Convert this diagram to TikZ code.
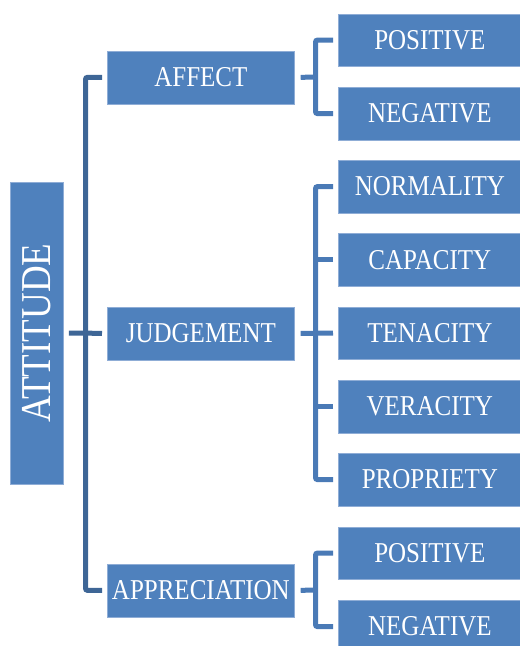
\documentclass[tikz,border=0pt]{standalone}
\usepackage{fontspec}
\setmainfont{Liberation Serif}
\definecolor{boxblue}{HTML}{4F81BD}
\definecolor{boxedge}{HTML}{8FADD6}
\definecolor{leftline}{HTML}{3E6696}
\definecolor{rightline}{HTML}{4A7AB6}
\newcommand{\tall}[1]{\scalebox{1}[1.15]{#1}}
\begin{document}
\begin{tikzpicture}[x=1pt,y=-1pt,
  box/.style={fill=boxblue, draw=boxedge, line width=0.7pt, text=white, inner sep=0pt,
    font=\fontsize{25}{25}\selectfont},
  midbox/.style={box, anchor=north west, minimum width=187pt, minimum height=53pt},
  leafbox/.style={box, anchor=north west, minimum width=183pt, minimum height=52.5pt},
  lline/.style={draw=leftline, line width=5pt, rounded corners=2pt},
  rline/.style={draw=rightline, line width=5pt, rounded corners=2pt}]
\useasboundingbox (0,0) rectangle (520,646);
\clip (0,0) rectangle (520,646);

% root
\node[box, minimum width=302pt, minimum height=53pt, rotate=90,
      font=\fontsize{37}{37}\selectfont] (att) at (37,333) {\tall{ATTITUDE}};

% middle level
\node[midbox] (affect) at (107,50.5) {\tall{AFFECT}};
\node[midbox] (judg) at (107,306.5) {\tall{JUDGEMENT}};
\node[midbox] (appr) at (107,563.5) {\tall{APPRECIATION}};

% leaves
\node[leafbox] (pos1) at (338,13.5) {\tall{POSITIVE}};
\node[leafbox] (neg1) at (338,87) {\tall{NEGATIVE}};
\node[leafbox] (norm) at (338,160) {\tall{NORMALITY}};
\node[leafbox] (cap) at (338,233.3) {\tall{CAPACITY}};
\node[leafbox] (ten) at (338,306.5) {\tall{TENACITY}};
\node[leafbox] (ver) at (338,380) {\tall{VERACITY}};
\node[leafbox] (prop) at (338,453) {\tall{PROPRIETY}};
\node[leafbox] (pos2) at (338,526.5) {\tall{POSITIVE}};
\node[leafbox] (neg2) at (338,600) {\tall{NEGATIVE}};

% left bracket
\coordinate (lb) at (85.5,333);
\draw[lline] ([xshift=-5pt]affect.west) -| (lb) |- ([xshift=-5pt]appr.west);
\draw[lline] ([xshift=5pt]att.south) -- ([xshift=-5pt]judg.west);

% affect bracket
\coordinate (ra) at (315.5,77);
\draw[rline] ([xshift=-5pt]pos1.west) -| (ra) |- ([xshift=-5pt]neg1.west);
\draw[rline] ([xshift=6pt]affect.east) -- (ra);

% judgement bracket
\coordinate (rj) at (315.5,333);
\draw[rline] ([xshift=-5pt]norm.west) -| (rj) |- ([xshift=-5pt]prop.west);
\draw[rline] ([xshift=6pt]judg.east) -- ([xshift=-5pt]ten.west);
\draw[rline] ([xshift=-5pt]cap.west) -- (cap.west -| rj);
\draw[rline] ([xshift=-5pt]ver.west) -- (ver.west -| rj);

% appreciation bracket
\coordinate (rp) at (315.5,590);
\draw[rline] ([xshift=-5pt]pos2.west) -| (rp) |- ([xshift=-5pt]neg2.west);
\draw[rline] ([xshift=6pt]appr.east) -- (rp);
\end{tikzpicture}
\end{document}
